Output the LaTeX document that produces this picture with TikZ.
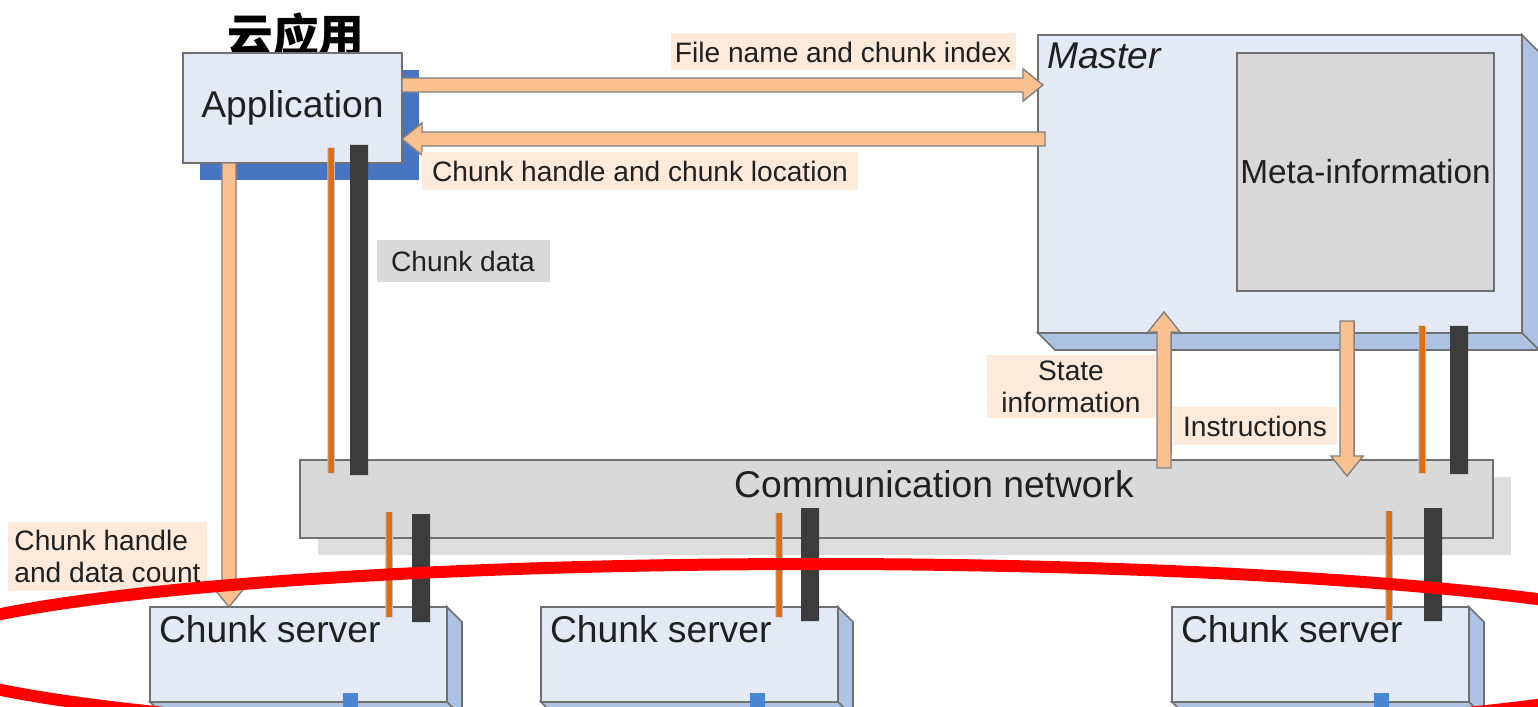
\documentclass[tikz,border=0pt]{standalone}
\usepackage{fontspec}
\setmainfont{Liberation Sans}
\newfontfamily\cjk{Noto Sans CJK SC}
\usetikzlibrary{calc,shadows}

\definecolor{boxblue}{HTML}{E4EAF5}
\definecolor{bevelblue}{HTML}{AEC3E4}
\definecolor{appshadow}{HTML}{4775C2}
\definecolor{netgray}{HTML}{D9D9D9}
\definecolor{netshadow}{HTML}{DDDDDD}
\definecolor{metagray}{HTML}{D8D8D8}
\definecolor{peach}{HTML}{FAC090}
\definecolor{peachbg}{HTML}{FDEADA}
\definecolor{wire}{HTML}{E46C0A}
\definecolor{bus}{HTML}{3C3C3C}
\definecolor{portblue}{HTML}{4A86D3}
\definecolor{edge}{HTML}{707070}
\definecolor{ink}{HTML}{202020}

\tikzset{
  box/.style={draw=edge, line width=0.45pt, fill=boxblue, inner sep=0pt},
  bevel/.style={draw=edge, line width=0.45pt, fill=bevelblue},
  bigtext/.style={font=\fontsize{10.6}{12.5}\selectfont, text=ink},
  cjklabel/.style={font=\cjk\bfseries\fontsize{13}{15}\selectfont, inner sep=0pt},
  tag/.style={fill=peachbg, inner sep=0pt, text=ink, font=\fontsize{8}{9.1}\selectfont},
  flow/.style={draw=gray, line width=0.4pt, fill=peach},
  wirebar/.style={draw=wire, line width=0.55mm, preaction={draw=bevelblue, line width=0.75mm}},
  busbar/.style={draw=bus, line width=1.8mm},
}

% fat block arrow from #1 to #2
\newcommand\flowarrow[2]{%
  \draw[flow] let \p1=(#1), \p2=(#2), \n1={atan2(\y2-\y1,\x2-\x1)},
      \p3=({\x2-5.7*cos(\n1)},{\y2-5.7*sin(\n1)}) in
    ({\x1-2*sin(\n1)},{\y1+2*cos(\n1)})
    -- ({\x3-2*sin(\n1)},{\y3+2*cos(\n1)})
    -- ({\x3-4.6*sin(\n1)},{\y3+4.6*cos(\n1)})
    -- (\p2)
    -- ({\x3+4.6*sin(\n1)},{\y3-4.6*cos(\n1)})
    -- ({\x3+2*sin(\n1)},{\y3-2*cos(\n1)})
    -- ({\x1+2*sin(\n1)},{\y1-2*cos(\n1)}) -- cycle;}

\begin{document}
\begin{tikzpicture}[x=0.1mm, y=-0.1mm, outer sep=0pt]
  \useasboundingbox (0,0) rectangle (1538,707);

  % client
  \node[cjklabel] (title) at (296,35) {云应用};
  \node[box, bigtext, minimum width=21.9mm, minimum height=11mm,
        drop shadow={shadow xshift=1.7mm, shadow yshift=-1.7mm, fill=appshadow, opacity=1}]
    (app) at (292.5,108) {Application};

  % master and its meta data
  \node[box, minimum width=48.4mm, minimum height=29.8mm] (master) at (1280,184) {};
  \filldraw[bevel] (master.north east) -- ++(17,17) -- ($(master.south east)+(17,17)$) -- (master.south east) -- cycle;
  \filldraw[bevel] (master.south west) -- ++(17,17) -- ($(master.south east)+(17,17)$) -- (master.south east) -- cycle;
  \node[font=\fontsize{10.6}{12.5}\selectfont\itshape, text=ink, anchor=north west, inner sep=0pt]
    (mastername) at ($(master.north west)+(9,8)$) {Master};
  \node[draw=edge, line width=0.45pt, fill=metagray, inner sep=0pt, text=ink,
        minimum width=25.7mm, minimum height=23.8mm, font=\fontsize{9.5}{11}\selectfont]
    (meta) at (1365.5,172) {Meta-information};

  % network
  \node[draw=edge, line width=0.45pt, fill=netgray, inner sep=0pt,
        minimum width=119.3mm, minimum height=7.8mm,
        drop shadow={shadow xshift=1.8mm, shadow yshift=-1.7mm, fill=netshadow, opacity=1},
        label={[bigtext, xshift=3.75mm, yshift=1.5mm]center:Communication network}]
    (net) at (896.5,499) {};

  % chunk servers
  \foreach \n/\x in {cs1/298.5, cs2/689.5, cs3/1320.5}
    \node[box, minimum width=29.7mm, minimum height=9.5mm,
          label={[bigtext, anchor=north west, inner sep=0pt, xshift=0.9mm, yshift=-0.8mm]north west:Chunk server}]
      (\n) at (\x,654.5) {};
  \foreach \n in {cs1,cs2,cs3} {
    \filldraw[bevel] (\n.north east) -- ++(15,15) -- ($(\n.south east)+(15,15)$) -- (\n.south east) -- cycle;
    \filldraw[bevel] (\n.south west) -- ++(15,15) -- ($(\n.south east)+(15,15)$) -- (\n.south east) -- cycle;
  }
  \foreach \n/\dx in {cs1/193, cs2/209, cs3/202}
    \fill[portblue] ($(\n.south west)+(\dx,-9)$) rectangle ++(15,15);

  % data links
  \draw[wirebar] ($(app.south west)+(148,-15)$) -- ($(net.north west)+(31,13)$);
  \draw[busbar] ($(app.south west)+(176,-18)$) -- ($(net.north west)+(59,15)$);
  \draw[wirebar] ($(master.south east)+(-100,-7)$) -- ($(net.north east)+(-71,13)$);
  \draw[busbar] ($(master.south east)+(-63,-7)$) -- ($(net.north east)+(-34,14)$);
  \draw[wirebar] ($(net.south west)+(89,-26)$) -- ($(cs1.north west)+(239,10)$);
  \draw[busbar] ($(net.south west)+(121,-24)$) -- ($(cs1.north west)+(271,15)$);
  \draw[wirebar] ($(net.south west)+(479,-25)$) -- ($(cs2.north west)+(238,10)$);
  \draw[busbar] ($(net.south west)+(510,-30)$) -- ($(cs2.north west)+(269,14)$);
  \draw[wirebar] ($(net.south east)+(-104,-27)$) -- ($(cs3.north west)+(217,13)$);
  \draw[busbar] ($(net.south east)+(-60,-30)$) -- ($(cs3.north west)+(261,14)$);

  % control flows
  \flowarrow{$(app.north east)+(0,32)$}{$(master.north west)+(5,50)$}
  \flowarrow{$(master.north west)+(7,104)$}{$(app.north east)+(0,86)$}
  \flowarrow{$(app.south west)+(46,0)$}{$(cs1.north west)+(79,0)$}
  \flowarrow{$(net.north east)+(-329,8)$}{$(master.south west)+(126,-21)$}
  \flowarrow{$(master.south east)+(-175,-12)$}{$(net.north east)+(-146,16)$}

  \node[tag, minimum width=34.5mm, minimum height=3.7mm] (fname) at (843,52) {File name and chunk index};
  \node[tag, minimum width=43.6mm, minimum height=3.8mm] (loc) at (640,171) {Chunk handle and chunk location};
  \node[tag, fill=netgray, minimum width=17.3mm, minimum height=4.2mm] (cdata) at (463,261) {Chunk data};
  \node[tag, align=left, minimum width=19.9mm, minimum height=6.9mm] (count) at (107.5,556.5) {Chunk handle\\and data count};
  \node[tag, align=center, minimum width=16.8mm, minimum height=6.3mm] (state) at (1071,386.5) {State\\information};
  \node[tag, minimum width=16.4mm, minimum height=3.8mm] (instr) at (1255,426) {Instructions};

  % marked group
  \draw[red, line width=1.2mm] (816,652) ellipse [x radius=903, y radius=88];
\end{tikzpicture}
\end{document}
